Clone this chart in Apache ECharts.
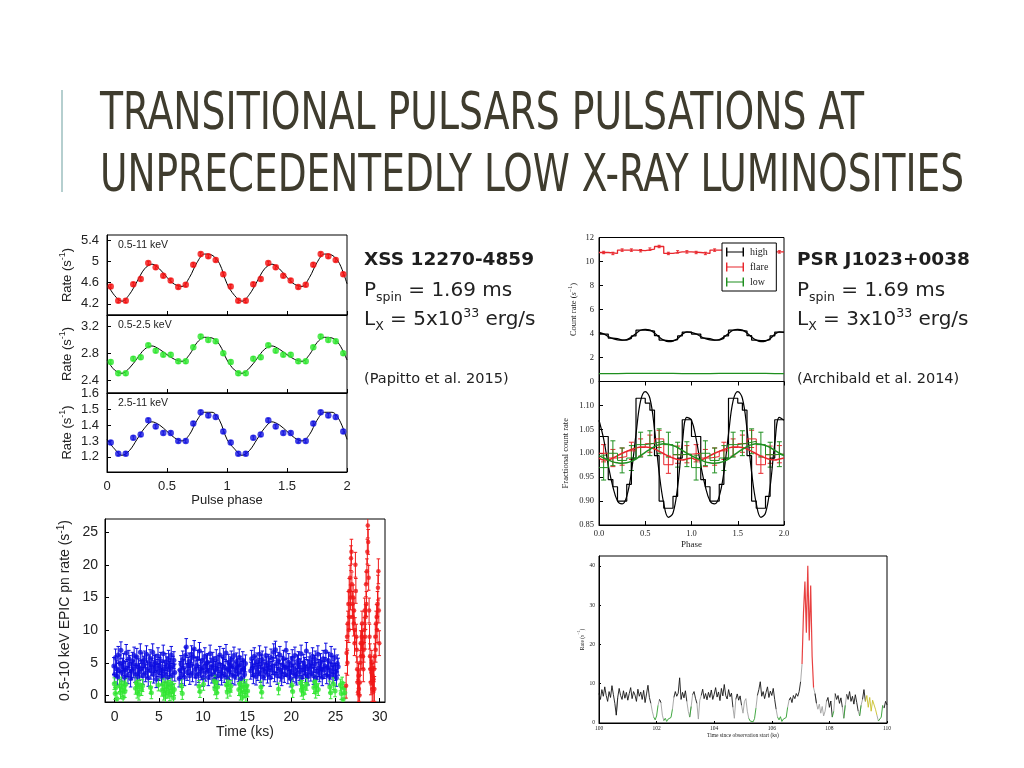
<!DOCTYPE html>
<html><head><meta charset="utf-8">
<script src="https://cdn.jsdelivr.net/npm/echarts@6/dist/echarts.min.js"></script>
<style>html,body{margin:0;padding:0;background:#fff}#c{width:1024px;height:768px}</style>
</head><body><div id="c"></div>
<script>
// ---------------- texts ----------------
const titleLines = ['TRANSITIONAL PULSARS PULSATIONS AT', 'UNPRECEDENTEDLY LOW X-RAY LUMINOSITIES'];
const leftSource = 'XSS 12270-4859';
const leftPspin = '1.69 ms';
const leftLx = '5x10';
const leftRef = '(Papitto et al. 2015)';
const rightSource = 'PSR J1023+0038';
const rightPspin = '1.69 ms';
const rightLx = '3x10';
const rightRef = '(Archibald et al. 2014)';
const bandLabels = ['0.5-11 keV', '0.5-2.5 keV', '2.5-11 keV'];

// ---------------- pulse profiles (XSS J12270) ----------------
const profilePhase = [0.031,0.094,0.156,0.219,0.281,0.344,0.406,0.469,0.531,0.594,0.656,0.719,0.781,0.844,0.906,0.969];
const rateFull = [4.53,4.26,4.26,4.57,4.67,4.97,4.89,4.73,4.64,4.52,4.56,4.94,5.14,5.10,5.03,4.76];
const rateSoft = [2.67,2.50,2.50,2.72,2.74,2.92,2.84,2.78,2.78,2.68,2.68,2.89,3.05,3.00,2.98,2.80];
const rateHard = [1.29,1.22,1.22,1.32,1.34,1.43,1.39,1.35,1.35,1.30,1.30,1.41,1.48,1.46,1.45,1.36];
const modelPhase = [0,0.0625,0.125,0.1875,0.25,0.3125,0.375,0.4375,0.5,0.5625,0.625,0.6875,0.75,0.8125,0.875,0.9375,1];
const modelFull = [4.58,4.36,4.25,4.38,4.62,4.86,4.95,4.86,4.70,4.57,4.53,4.70,4.98,5.14,5.12,4.96,4.58];
const modelSoft = [2.70,2.55,2.50,2.58,2.72,2.86,2.91,2.86,2.78,2.71,2.68,2.78,2.96,3.04,3.03,2.93,2.70];
const modelHard = [1.31,1.25,1.21,1.24,1.31,1.38,1.42,1.40,1.36,1.32,1.30,1.34,1.43,1.48,1.48,1.43,1.31];
const errFull = 0.035, errSoft = 0.03, errHard = 0.012;
const ticksFull = [4.2,4.6,5,5.4];
const ticksSoft = [2.4,2.8,3.2];
const ticksHard = [1.2,1.3,1.4,1.5,1.6];

// ---------------- XMM light curve ----------------
const lcBinKs = 0.1;
const lcHighStarts = [-0.1, 7.3, 15.4];
const lcHighA = [4.5,3.2,5.8,4.1,2.9,6.2,3.8,4.9,6.9,3.5,
 4.4,5.1,2.8,3.9,6.5,4.2,3.1,5.6,4.8,2.6,
 3.7,5.3,4.0,6.1,3.3,4.6,5.9,2.9,4.3,3.6,
 6.6,4.1,5.2,3.0,4.7,5.5,3.4,6.3,4.0,2.7,
 4.9,5.7,3.8,4.4,6.6,3.2,4.8,5.0,2.5,4.2,
 6.0,3.6,4.5,5.3,2.9,3.8,6.4,4.1,3.3,5.1,
 4.6,2.8,5.6,3.9,4.3,6.2,3.0,4.7,5.4,3.5];
const lcHighB = [2.6,3.9,4.8,3.1,5.5,4.2,2.8,6.1,7.4,3.6,
 4.5,5.2,3.0,4.7,6.3,3.4,5.8,7.1,4.0,2.9,
 4.6,5.6,3.3,6.8,4.1,3.7,5.4,2.7,4.3,6.0,
 3.5,4.9,5.1,2.8,3.8,6.4,4.4,3.2,5.3,4.6,
 2.5,3.9,5.7,4.1,3.0,4.8,6.2,3.6,2.9,4.5,
 5.9,3.3,4.2,6.5,2.8,4.0,5.0,3.7,4.6,5.5,
 3.1,4.4,6.1,2.9,3.8,5.2,4.3,3.4,5.8,4.7,
 2.6,3.9,5.4,4.1,3.2,4.9];
const lcHighC = [3.8,5.6,4.2,3.1,6.0,4.7,2.9,5.2,3.6,4.4,
 6.3,3.3,4.9,5.5,2.8,4.1,3.7,6.1,4.6,3.2,
 5.0,4.3,2.7,5.8,3.9,4.5,6.6,3.4,7.0,4.8,
 3.0,5.3,4.0,6.2,3.5,2.8,4.7,5.6,3.3,4.2,
 6.9,4.4,3.1,5.1,3.8,2.6,4.6,5.7,3.4,4.0,
 6.1,3.2,2.9,4.9,5.4,3.6,4.3,6.4,2.8,3.9,
 5.0,4.5,3.3,6.8,4.1,2.9,4.6,5.2,3.5,4.4,
 6.0,3.0,4.8,5.5,2.7,3.7,6.3,4.2,3.4,5.1,
 4.0,2.8,5.6,3.9,4.5,6.7,3.1,4.3,5.3,2.9,
 3.8,6.2,4.7,3.2,4.1,5.8,3.6,2.7,4.9,4.4];
const lcLow = [[-0.05,1.8],[0.05,0.3],[0.15,1.2],[0.25,-0.5],[0.55,1.5],[0.65,0.4],[0.75,1.9],[0.85,0.8],[0.95,-0.3],[1.05,1.3],[1.15,0.6],[1.25,1.7],[2.35,1.1],[2.45,1.9],[2.55,0.5],[2.65,1.4],[2.75,0.2],[2.85,1.6],[3.05,0.9],[3.15,1.5],[4.05,1.2],[4.15,0.4],[4.95,1.6],[5.35,0.8],[5.45,1.7],[5.55,0.2],[5.65,1.3],[5.75,-0.2],[5.85,1.0],[5.95,1.9],[6.05,0.5],[6.15,1.4],[6.25,0.1],[6.35,1.8],[6.45,0.7],[6.55,1.2],[6.65,-0.4],[6.75,0.9],[7.55,1.5],[7.65,0.3],[9.55,1.4],[9.65,0.6],[10.05,1.7],[11.25,2.2],[11.35,1.0],[11.45,2.0],[11.55,0.4],[11.65,1.3],[12.65,1.6],[12.75,0.5],[12.85,1.9],[13.05,0.8],[13.15,1.4],[14.05,0.9],[14.15,1.8],[14.25,0.2],[14.35,1.3],[14.45,-0.3],[14.55,1.6],[14.65,0.6],[14.75,1.2],[14.85,0.0],[14.95,1.5],[15.05,0.7],[16.55,1.3],[16.65,0.5],[18.55,1.0],[20.05,1.6],[20.15,0.6],[21.05,1.9],[21.15,0.8],[21.25,1.4],[21.35,0.3],[21.55,1.1],[21.75,1.7],[22.55,1.2],[22.65,2.1],[22.75,0.5],[22.85,1.5],[23.05,0.9],[24.35,1.3],[24.45,0.4],[24.75,1.8],[24.95,0.7],[25.55,1.6],[25.65,0.3],[25.75,1.9],[25.85,-0.6],[25.95,1.1],[26.05,0.4]];
const lcFlare = [[26.2,1.5],[26.25,6.5],[26.3,9],[26.35,5],[26.4,11],[26.45,14],[26.5,10],[26.55,16],[26.6,12],[26.65,18],[26.7,15],[26.75,21],[26.8,22],[26.85,17],[26.9,14],[26.95,12],[27.0,15],[27.05,11],[27.1,13],[27.15,8],[27.2,10],[27.25,20],[27.3,16],[27.35,9],[27.4,7],[27.45,4],[27.5,2],[27.55,0.5],[27.6,3],[27.65,1],[27.7,0],[27.75,2],[27.8,5],[27.85,8],[27.9,6],[27.95,9],[28.0,11],[28.05,8],[28.1,6],[28.15,4],[28.2,7],[28.25,10],[28.3,13],[28.35,9],[28.4,12],[28.45,17],[28.5,14],[28.55,19],[28.6,22],[28.65,26],[28.7,23.5],[28.75,18],[28.8,13],[28.85,9],[28.9,6],[28.95,4],[29.0,2],[29.05,3.5],[29.1,5],[29.15,1],[29.2,3],[29.25,0.5],[29.3,2.5],[29.35,4],[29.4,1],[29.45,6],[29.5,9],[29.55,7],[29.6,11],[29.65,12],[29.7,10],[29.75,14],[29.8,16.5],[29.85,19],[29.9,13],[29.95,8]];
const lcHighErr = 1.3, lcLowErr = 0.9, lcFlareErr = 1.9;
const lcTicksX = [0,5,10,15,20,25,30];
const lcTicksY = [0,5,10,15,20,25];

// ---------------- PSR J1023 folded profiles ----------------
const countFlare = [10.75,10.67,10.95,10.95,10.9,11.03,11.25,10.67,10.8,10.8];
const countHighSteps = [3.95,3.95,3.62,3.57,3.45,3.45,3.6,3.8,4.28,4.28,4.25,4.2,3.82,3.45,3.4,3.4,3.5,3.8,4.12,4.12];
const curvePhase = [0,0.05,0.1,0.15,0.2,0.25,0.3,0.35,0.4,0.45,0.5,0.55,0.6,0.65,0.7,0.75,0.8,0.85,0.9,0.95,1];
const countHighCurve = [4.1,3.97,3.75,3.58,3.47,3.44,3.5,3.7,4.0,4.27,4.34,4.29,4.04,3.7,3.45,3.33,3.37,3.58,3.93,4.14,4.1];
const countLow = [0.66,0.66,0.67,0.67,0.68,0.68,0.68,0.67,0.66,0.66];
const countFlareErr = 0.1;
const fracHighSteps = [1.035,1.035,0.945,0.93,0.90,0.90,0.935,0.99,1.115,1.115,1.105,1.09,0.995,0.90,0.885,0.885,0.91,0.99,1.07,1.07];
const fracHighCurve = [1.069,1.03,0.975,0.93,0.90,0.894,0.91,0.96,1.04,1.11,1.129,1.115,1.05,0.96,0.895,0.866,0.875,0.93,1.02,1.075,1.069];
const fracFlareSteps = [1.0,0.99,0.993,1.005,1.012,1.02,1.03,0.976,0.997,0.998];
const fracFlareCurve = [0.990,0.986,0.986,0.990,0.995,1.000,1.004,1.008,1.011,1.013,1.013,1.012,1.009,1.004,0.999,0.994,0.990,0.987,0.986,0.988,0.990];
const fracLowSteps = [0.97,1.0,0.985,0.99,1.018,1.021,1.025,1.018,0.997,0.998];
const fracLowCurve = [0.995,0.99,0.986,0.982,0.980,0.979,0.980,0.983,0.988,0.995,1.002,1.008,1.014,1.018,1.020,1.019,1.016,1.012,1.006,1.000,0.995];
const fracFlareErr = 0.018, fracLowErr = 0.026;
const legendNames = ['high','flare','low'];

// ---------------- PSR J1023 light curve ----------------
const obsStartKs = 100, obsBinKs = 0.05;
const obsRate = [
7.5,6.0,8.5,6.8,9.2,7.0,5.5,8.0,6.5,9.5,
7.2,5.0,2.0,6.5,8.8,7.0,6.0,8.2,6.3,7.8,
5.8,7.5,9.0,6.2,8.0,7.1,5.5,8.6,6.8,7.9,
6.0,8.3,5.2,7.4,9.6,6.5,5.0,3.0,1.5,0.8,
1.8,4.5,6.0,5.2,2.0,0.6,1.2,0.4,1.0,0.5,
1.4,3.5,6.5,8.0,6.8,7.6,11.5,6.0,7.8,6.4,
8.2,5.5,3.0,1.5,4.2,7.2,8.0,6.3,5.0,1.0,
5.8,7.0,8.6,6.2,7.5,5.9,7.8,6.5,8.4,6.0,
7.3,9.0,6.6,7.9,5.7,8.8,6.9,9.8,7.0,6.1,
8.5,6.7,7.6,4.0,1.2,6.0,7.4,5.8,6.9,4.5,
2.5,5.5,6.2,3.0,1.2,0.5,0.9,0.3,1.1,3.8,
7.0,8.5,10.5,6.8,8.0,6.2,7.8,9.2,6.5,8.1,
7.0,8.8,6.0,3.5,1.5,0.8,1.6,0.4,1.0,0.6,
1.4,4.0,5.8,6.5,5.2,7.0,6.2,7.5,6.8,8.0,
10.5,15.0,28.0,36.0,23.0,40.0,21.0,35.0,17.0,9.0,
7.5,5.0,3.5,4.8,2.5,4.2,1.8,3.0,5.5,6.5,
4.0,5.6,1.5,3.0,7.5,6.0,7.0,5.0,6.4,4.0,
1.2,4.5,7.3,6.0,8.0,5.5,6.8,4.8,7.2,5.2,
3.0,1.8,4.5,6.0,8.5,5.5,7.0,4.0,6.5,3.0,
5.8,6.2,3.5,2.0,0.5,0.2,1.5,4.5,3.8,5.5,
4.6];
const obsModeRuns = [['h',12],['g',1],['h',23],['g',2],['l',3],['g',1],['h',1],['g',2],['l',6],['g',1],['h',9],['g',2],['l',1],['g',1],['h',3],['g',3],['h',22],['g',2],['h',4],['g',5],['l',5],['g',1],['h',13],['g',1],['l',7],['g',1],['h',8],['g',1],['f',8],['g',1],['h',1],['g',7],['h',2],['g',1],['h',1],['l',1],['g',1],['h',5],['g',1],['l',1],['g',1],['h',8],['g',1],['l',1],['g',1],['h',2],['y',8],['g',1],['l',3],['g',1],['h',3]];
const obsTicksY = [0,10,20,30,40];

// ---------------- helpers ----------------
function twoCycles(ph, vals){ const o=[]; for(let c=0;c<2;c++) ph.forEach((p,i)=>o.push([p+c, vals[i]])); return o; }
function twoCyclesCurve(ph, vals){ const o=[]; for(let c=0;c<2;c++) ph.forEach((p,i)=>{ if(c===1&&i===0) return; o.push([p+c, vals[i]]); }); return o; }
function withErr(pairs, e){ return pairs.map(d=>[d[0], d[1], e]); }
function stepEdges(vals){ const n=vals.length, w=1/n, o=[]; for(let c=0;c<2;c++) vals.forEach((v,i)=>o.push([c+i*w, v])); o.push([2, vals[n-1]]); return o; }
function binCenters(vals){ const n=vals.length, w=1/n, o=[]; for(let c=0;c<2;c++) vals.forEach((v,i)=>o.push([c+(i+0.5)*w, v])); return o; }
function lcSegment(start, vals){ return vals.map((v,i)=>[+(start+i*lcBinKs).toFixed(3), v]); }

const lcHighData = [].concat(lcSegment(lcHighStarts[0], lcHighA), lcSegment(lcHighStarts[1], lcHighB), lcSegment(lcHighStarts[2], lcHighC));
const obsMode = []; obsModeRuns.forEach(r=>{ for(let k=0;k<r[1];k++) obsMode.push(r[0]); });
const obsTime = obsRate.map((_,i)=> +(obsStartKs + i*obsBinKs).toFixed(3));
function modeLine(m){ return obsRate.map((v,i)=>[obsTime[i], (obsMode[i]===m || (i>0 && obsMode[i-1]===m)) ? v : '-']); }

function errorBars(cap, color, lw){
  return function(params, api){
    const x=api.value(0), y=api.value(1), e=api.value(2);
    const hi=api.coord([x,y+e]), lo=api.coord([x,y-e]);
    const st={stroke:color, lineWidth:lw};
    return {type:'group', children:[
      {type:'line', shape:{x1:hi[0],y1:hi[1],x2:lo[0],y2:lo[1]}, style:st},
      {type:'line', shape:{x1:hi[0]-cap,y1:hi[1],x2:hi[0]+cap,y2:hi[1]}, style:st},
      {type:'line', shape:{x1:lo[0]-cap,y1:lo[1],x2:lo[0]+cap,y2:lo[1]}, style:st}
    ]};
  };
}

// ---------------- styling ----------------
const SANS = '"Liberation Sans", Arial, sans-serif';
const SERIF = '"Liberation Serif", "DejaVu Serif", serif';
const BODY = '"DejaVu Sans", "Open Sans", sans-serif';
const INK = '#222';
const lineBlack = {color:'#000', width:1};

function xAx(grid, o){
  return {type:'value', gridIndex:grid, min:o.min, max:o.max, interval:o.interval,
    axisLine:{show:true,onZero:false,lineStyle:lineBlack},
    axisTick:{show:true, inside:o.tickInside!==false, length:o.tickLen||4, lineStyle:lineBlack, customValues:o.custom},
    splitLine:{show:false},
    axisLabel:{show:!!o.labels, margin:o.margin||6, color:INK, fontFamily:o.font||SANS, fontSize:o.fs||13, formatter:o.fmt, customValues:o.custom, showMinLabel:true, showMaxLabel:true},
    name:o.name||'', nameLocation:'middle', nameGap:o.nameGap||20,
    nameTextStyle:{color:INK, fontFamily:o.font||SANS, fontSize:o.nfs||o.fs||13}};
}
function yAx(grid, o){
  return {type:'value', gridIndex:grid, min:o.min, max:o.max, interval:o.interval,
    axisLine:{show:true,onZero:false,lineStyle:lineBlack},
    axisTick:{show:true, inside:true, length:o.tickLen||4, lineStyle:lineBlack, customValues:o.custom},
    splitLine:{show:false},
    axisLabel:{show:true, margin:o.margin||7, color:INK, fontFamily:o.font||SANS, fontSize:o.fs||13, formatter:o.fmt, customValues:o.custom, showMinLabel:o.showMin!==false, showMaxLabel:o.showMax!==false},
    name:o.name||'', nameLocation:'middle', nameGap:o.nameGap||30,
    nameTextStyle:{color:INK, rich:o.rich}};
}
function supRich(font, fs, sfs){
  return {n:{fontFamily:font, fontSize:fs, lineHeight:fs+5, color:INK},
          s:{fontFamily:font, fontSize:sfs, lineHeight:sfs+1, verticalAlign:'top', color:INK}};
}
const fmt1 = v => String(+v.toFixed(2));

// ---------------- title measurement ----------------
const TITLE_FONT_FAMILY = '"Liberation Sans Narrow", "DejaVu Sans Condensed", "Liberation Sans", Arial, sans-serif';
const TITLE_SIZE = 52;
const titleTargets = [764, 864];
const mctx = document.createElement('canvas').getContext('2d');
mctx.font = TITLE_SIZE + 'px ' + TITLE_FONT_FAMILY;
const titleScales = titleLines.map((t,i)=> titleTargets[i] / mctx.measureText(t).width);

const grids = [
  {left:107, top:235, width:240, height:80},
  {left:107, top:315, width:240, height:78},
  {left:107, top:393, width:240, height:79},
  {left:105, top:519, width:280, height:183},
  {left:599, top:237.5, width:185, height:144},
  {left:599, top:381.5, width:185, height:143.5},
  {left:599, top:556, width:288, height:167}
].map(g=>Object.assign({show:true, borderColor:'#000', borderWidth:1, backgroundColor:'transparent', containLabel:false}, g));

const xAxes = [
  xAx(0,{min:0,max:2,interval:0.5}),
  xAx(1,{min:0,max:2,interval:0.5}),
  xAx(2,{min:0,max:2,interval:0.5,labels:true,fmt:fmt1,margin:8,name:'Pulse phase',nameGap:22}),
  xAx(3,{min:-1.1,max:30.6,custom:lcTicksX,labels:true,fs:14,margin:8,name:'Time (ks)',nameGap:21}),
  xAx(4,{min:0,max:2,interval:0.5,tickInside:false}),
  xAx(5,{min:0,max:2,interval:0.5,labels:true,font:SERIF,fs:8.5,margin:4,fmt:v=>v.toFixed(1),name:'Phase',nameGap:15,nfs:9}),
  xAx(6,{min:100,max:110,interval:2,labels:true,font:SERIF,fs:5.5,margin:3,tickLen:2,fmt:v=>String(v),name:'Time since observation start (ks)',nameGap:10,nfs:5.5})
];
const rateRich = supRich(SANS, 13, 9);
const yAxes = [
  yAx(0,{min:3.99,max:5.5,custom:ticksFull,fmt:fmt1,margin:8,name:'{n|Rate (s}{s|-1}{n|)}',nameGap:31,rich:rateRich}),
  yAx(1,{min:2.205,max:3.374,custom:ticksSoft,fmt:fmt1,margin:8,name:'{n|Rate (s}{s|-1}{n|)}',nameGap:31,rich:rateRich}),
  yAx(2,{min:1.105,max:1.601,custom:ticksHard,fmt:fmt1,margin:8,name:'{n|Rate (s}{s|-1}{n|)}',nameGap:31,rich:rateRich}),
  yAx(3,{min:-1,max:27,custom:lcTicksY,fs:14,margin:7,fmt:v=>String(v),name:'{n|0.5-10 keV EPIC pn rate (s}{s|-1}{n|)}',nameGap:30,rich:supRich(SANS,14,10)}),
  yAx(4,{min:0,max:12,interval:2,font:SERIF,fs:8.5,margin:5,fmt:v=>String(v),name:'{n|Count rate (}{i|s}{s|−1}{n|)}',nameGap:18,
        rich:Object.assign(supRich(SERIF,8.5,6),{i:{fontFamily:SERIF,fontSize:8.5,fontStyle:'italic',lineHeight:13.5,color:INK}})}),
  yAx(5,{min:0.85,max:1.15,interval:0.05,font:SERIF,fs:8.5,margin:5,showMax:false,fmt:v=>v.toFixed(2),name:'{n|Fractional count rate}',nameGap:26,rich:supRich(SERIF,8.5,6)}),
  yAx(6,{min:0,max:42.5,custom:obsTicksY,font:SERIF,fs:5.5,margin:4,tickLen:2,fmt:v=>String(v),name:'{n|Rate (}{i|s}{s|−1}{n|)}',nameGap:11,
        rich:Object.assign(supRich(SERIF,5.5,4),{i:{fontFamily:SERIF,fontSize:5.5,fontStyle:'italic',lineHeight:10.5,color:INK}})})
];

const series = [];
function profile(idx, vals, model, err, color){
  series.push({type:'line', xAxisIndex:idx, yAxisIndex:idx, data:twoCyclesCurve(modelPhase, model), smooth:0.35, symbol:'none', lineStyle:{color:'#000', width:1}, z:2, silent:true});
  series.push({type:'custom', xAxisIndex:idx, yAxisIndex:idx, data:withErr(twoCycles(profilePhase, vals), err), renderItem:errorBars(1.5, color, 1), encode:{x:0,y:1}, z:3, silent:true});
  series.push({type:'scatter', xAxisIndex:idx, yAxisIndex:idx, data:twoCycles(profilePhase, vals), symbol:'circle', symbolSize:6.5, itemStyle:{color:color, borderColor:color, borderWidth:0}, z:4, silent:true});
}
profile(0, rateFull, modelFull, errFull, '#f21010');
profile(1, rateSoft, modelSoft, errSoft, '#2ee62e');
profile(2, rateHard, modelHard, errHard, '#1414e0');

// light curve
function lcSeries(data, err, color, size){
  series.push({type:'custom', xAxisIndex:3, yAxisIndex:3, data:withErr(data, err), renderItem:errorBars(1.8, color, 1), encode:{x:0,y:1}, clip:true, silent:true});
  series.push({type:'scatter', xAxisIndex:3, yAxisIndex:3, data:data, symbol:'circle', symbolSize:size, itemStyle:{color:color}, clip:true, silent:true});
}
lcSeries(lcHighData, lcHighErr, '#0c0ce0', 5);
lcSeries(lcLow, lcLowErr, '#33e633', 5);
lcSeries(lcFlare, lcFlareErr, '#f01818', 4.5);

// J1023 count rate (top)
const C_RED = '#e8262c', C_GREEN = '#1f8f1f';
series.push({name:'low', type:'line', xAxisIndex:4, yAxisIndex:4, data:stepEdges(countLow), step:'end', symbol:'none', lineStyle:{color:C_GREEN, width:1.2}, itemStyle:{color:C_GREEN}, silent:true});
series.push({name:'high', type:'line', xAxisIndex:4, yAxisIndex:4, data:stepEdges(countHighSteps), step:'end', symbol:'none', lineStyle:{color:'#000', width:1.3}, itemStyle:{color:'#000'}, silent:true});
series.push({type:'line', xAxisIndex:4, yAxisIndex:4, data:twoCyclesCurve(curvePhase, countHighCurve), smooth:0.4, symbol:'none', lineStyle:{color:'#000', width:1.3}, silent:true});
series.push({name:'flare', type:'line', xAxisIndex:4, yAxisIndex:4, data:stepEdges(countFlare), step:'end', symbol:'none', lineStyle:{color:C_RED, width:1.3}, itemStyle:{color:C_RED}, silent:true});
series.push({type:'custom', xAxisIndex:4, yAxisIndex:4, data:withErr(binCenters(countFlare), countFlareErr), renderItem:errorBars(1.5, C_RED, 1), encode:{x:0,y:1}, silent:true});

// J1023 fractional (bottom)
series.push({type:'line', xAxisIndex:5, yAxisIndex:5, data:stepEdges(fracHighSteps), step:'end', symbol:'none', lineStyle:{color:'#000', width:1.2}, silent:true, z:3});
series.push({type:'line', xAxisIndex:5, yAxisIndex:5, data:twoCyclesCurve(curvePhase, fracHighCurve), smooth:0.4, symbol:'none', lineStyle:{color:'#000', width:1.2}, silent:true, z:3});
series.push({type:'line', xAxisIndex:5, yAxisIndex:5, data:stepEdges(fracFlareSteps), step:'end', symbol:'none', lineStyle:{color:C_RED, width:1}, silent:true});
series.push({type:'custom', xAxisIndex:5, yAxisIndex:5, data:withErr(binCenters(fracFlareSteps), fracFlareErr), renderItem:errorBars(2.5, C_RED, 1), encode:{x:0,y:1}, silent:true});
series.push({type:'line', xAxisIndex:5, yAxisIndex:5, data:twoCyclesCurve(curvePhase, fracFlareCurve), smooth:0.4, symbol:'none', lineStyle:{color:C_RED, width:1.5}, silent:true});
series.push({type:'line', xAxisIndex:5, yAxisIndex:5, data:stepEdges(fracLowSteps), step:'end', symbol:'none', lineStyle:{color:C_GREEN, width:1}, silent:true});
series.push({type:'custom', xAxisIndex:5, yAxisIndex:5, data:withErr(binCenters(fracLowSteps), fracLowErr), renderItem:errorBars(2.5, C_GREEN, 1), encode:{x:0,y:1}, silent:true});
series.push({type:'line', xAxisIndex:5, yAxisIndex:5, data:twoCyclesCurve(curvePhase, fracLowCurve), smooth:0.4, symbol:'none', lineStyle:{color:C_GREEN, width:1.5}, silent:true});

// J1023 light curve
const modeColors = {g:'#a0a0a0', h:'#151515', l:'#2e9e2e', f:'#e84040', y:'#c8c02a'};
['g','h','l','y','f'].forEach(m=>{
  series.push({type:'line', xAxisIndex:6, yAxisIndex:6, data:modeLine(m), symbol:'none', connectNulls:false, lineStyle:{color:modeColors[m], width:m==='f'?1.2:0.9}, silent:true, z: m==='f'?4:2});
});

// ---------------- graphics ----------------
const graphics = [
  {type:'line', shape:{x1:62,y1:90,x2:62,y2:192}, style:{stroke:'#9dbfbf', lineWidth:1.5}},
];
titleLines.forEach((t,i)=>{
  graphics.push({type:'text', x:100, y:[115,177][i], scaleX:titleScales[i], scaleY:1,
    style:{text:t, fontFamily:TITLE_FONT_FAMILY, fontSize:TITLE_SIZE, fill:'#3f3c2e', align:'left', verticalAlign:'middle', textAlign:'left', textVerticalAlign:'middle'}});
});
bandLabels.forEach((t,i)=>{
  graphics.push({type:'text', x:118, y:[245,325,403][i], style:{text:t, fontFamily:SANS, fontSize:10.5, fill:INK, verticalAlign:'middle', textVerticalAlign:'middle'}});
});
function infoBlock(x, src, pspin, lx, ref){
  graphics.push({type:'text', x:x, y:260, style:{text:src, fontFamily:BODY, fontWeight:'bold', fontSize:18.5, fill:'#1e1e1e', verticalAlign:'middle', textVerticalAlign:'middle'}});
  const rich = {a:{fontFamily:BODY, fontSize:20, lineHeight:26, fill:'#222'}, b:{fontFamily:BODY, fontSize:12.5, lineHeight:12, verticalAlign:'bottom', fill:'#222'}, c:{fontFamily:BODY, fontSize:12.5, lineHeight:12, verticalAlign:'top', fill:'#222'}};
  graphics.push({type:'text', x:x, y:291, style:{text:'{a|P}{b|spin}{a| = '+pspin+'}', rich:rich, verticalAlign:'middle', textVerticalAlign:'middle'}});
  graphics.push({type:'text', x:x, y:320, style:{text:'{a|L}{b|X}{a| = '+lx+'}{c|33}{a| erg/s}', rich:rich, verticalAlign:'middle', textVerticalAlign:'middle'}});
  graphics.push({type:'text', x:x, y:379, style:{text:ref, fontFamily:BODY, fontSize:14.5, fill:'#222', verticalAlign:'middle', textVerticalAlign:'middle'}});
}
infoBlock(364, leftSource, leftPspin, leftLx, leftRef);
infoBlock(797, rightSource, rightPspin, rightLx, rightRef);

const option = {
  animation:false,
  backgroundColor:'#fff',
  grid:grids, xAxis:xAxes, yAxis:yAxes, series:series,
  legend:{data:legendNames, orient:'vertical', left:722, top:243, itemWidth:20, itemHeight:9, itemGap:5,
    padding:[4,8,4,4], backgroundColor:'#fff', borderColor:'#000', borderWidth:1, selectedMode:false,
    icon:'path://M0,0h1.6v10h-1.6z M0,4.4h20v1.2h-20z M18.4,0h1.6v10h-1.6z',
    textStyle:{fontFamily:SERIF, fontSize:10, color:INK}},
  graphic:graphics
};
const chart = echarts.init(document.getElementById('c'), null, {renderer:'canvas', width:1024, height:768});
chart.setOption(option);
</script></body></html>
